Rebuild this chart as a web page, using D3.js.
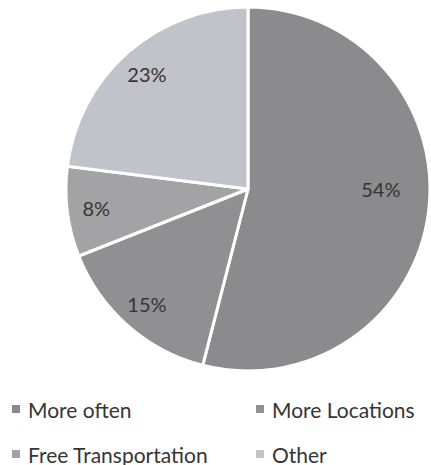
<!DOCTYPE html>
<html>
<head>
<meta charset="utf-8">
<script src="https://cdn.jsdelivr.net/npm/d3@7/dist/d3.min.js"></script>
<style>
  html, body { margin: 0; padding: 0; background: #ffffff; }
  svg { display: block; }
  text { font-family: Lato, "Open Sans", sans-serif; fill: #353535; }
</style>
</head>
<body>
<svg id="chart" width="431" height="465"></svg>
<script>
// Survey answers, shares in percent
const categories = ["More often", "More Locations", "Free Transportation", "Other"];
const shares = [54, 15, 8, 23];
const colors = ["#8b8b8d", "#909092", "#a3a3a5", "#c2c2ca"];

const svg = d3.select("#chart");
const cx = 248, cy = 189, radius = 182;

const pie = d3.pie().sort(null).value(d => d.value);
const slices = pie(categories.map((c, i) => ({ name: c, value: shares[i], color: colors[i] })));

const arc = d3.arc().innerRadius(0).outerRadius(radius);

const g = svg.append("g").attr("transform", `translate(${cx},${cy})`);

g.selectAll("path.slice")
  .data(slices)
  .join("path")
  .attr("class", "slice")
  .attr("d", arc)
  .attr("fill", d => d.data.color)
  .attr("stroke", "#ffffff")
  .attr("stroke-width", 3)
  .attr("stroke-linejoin", "round");

// Percent labels: a slice that spans the 3 o'clock direction and covers more
// than half of the pie gets its label on that horizontal; others use the mid-angle.
function labelPos(d) {
  let a = (d.startAngle + d.endAngle) / 2;
  let r = radius * 0.84;
  if (d.data.value > 50 && d.startAngle <= Math.PI / 2 && d.endAngle >= Math.PI / 2) {
    a = Math.PI / 2;
    r = radius * 0.73;
  }
  return [Math.sin(a) * r, -Math.cos(a) * r];
}

g.selectAll("text.pct")
  .data(slices)
  .join("text")
  .attr("class", "pct")
  .attr("x", d => labelPos(d)[0])
  .attr("y", d => labelPos(d)[1])
  .attr("text-anchor", "middle")
  .attr("dominant-baseline", "central")
  .attr("font-size", 20)
  .text(d => d.data.value + "%");

// Legend: two columns, two rows
const legendX = [12, 256];
const legendY = [409, 454];
const legend = svg.append("g");
const items = legend.selectAll("g.item")
  .data(slices)
  .join("g")
  .attr("class", "item")
  .attr("transform", (d, i) => `translate(${legendX[i % 2]},${legendY[Math.floor(i / 2)]})`);

items.append("rect")
  .attr("x", 0).attr("y", -4)
  .attr("width", 8).attr("height", 8)
  .attr("fill", d => d.data.color);

items.append("text")
  .attr("x", 16)
  .attr("y", 0)
  .attr("dominant-baseline", "central")
  .attr("font-size", 21)
  .text(d => d.data.name);
</script>
</body>
</html>
